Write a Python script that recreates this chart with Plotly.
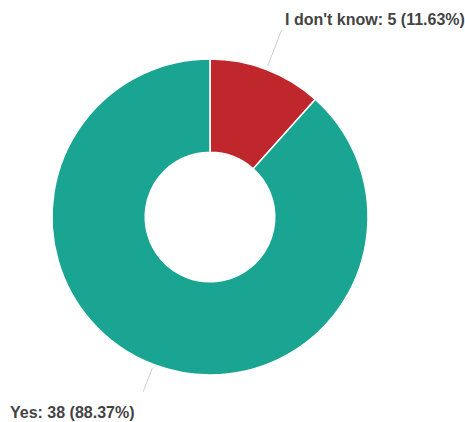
import math
import plotly.graph_objects as go

labels = ["I don't know", "Yes"]
values = [5, 38]
colors = ["#c0272d", "#1aa592"]

W, H = 465, 422
cx, cy, R = 210, 217, 158  # pixel geometry of donut

total = sum(values)
fig = go.Figure(go.Pie(
    labels=labels, values=values, sort=False, direction="clockwise", rotation=0,
    hole=0.41, marker=dict(colors=colors, line=dict(color="white", width=1.5)),
    textinfo="none", hoverinfo="label+value+percent", showlegend=False,
    domain=dict(x=[(cx - R) / W, (cx + R) / W], y=[1 - (cy + R) / H, 1 - (cy - R) / H]),
))

def px(x):
    return x / W

def py(y):
    return 1 - y / H

cum = 0
shapes, annots = [], []
outer_r = [200, 187]
font = dict(family="Liberation Sans, Arial", size=16, color="#444444")
for i, (lab, v) in enumerate(zip(labels, values)):
    mid = (cum + v / 2) / total * 2 * math.pi
    cum += v
    x0 = cx + (R + 4) * math.sin(mid)
    y0 = cy - (R + 4) * math.cos(mid)
    x1 = cx + outer_r[i] * math.sin(mid)
    y1 = cy - outer_r[i] * math.cos(mid)
    shapes.append(dict(type="line", xref="paper", yref="paper",
                       x0=px(x0), y0=py(y0), x1=px(x1), y1=py(y1),
                       line=dict(color="#cccccc", width=1)))
    pct = v / total * 100
    txt = f"<b>{lab}: {v} ({pct:.2f}%)</b>"
    if math.sin(mid) >= 0:
        annots.append(dict(x=px(x1 + 2), y=py(y1 - 11), xref="paper", yref="paper",
                           text=txt, showarrow=False, xanchor="left", yanchor="middle",
                           font=font))
    else:
        annots.append(dict(x=px(x1 - 6), y=py(y1 + 21), xref="paper", yref="paper",
                           text=txt, showarrow=False, xanchor="right", yanchor="middle",
                           font=font))

fig.update_layout(width=W, height=H, margin=dict(l=0, r=0, t=0, b=0),
                  paper_bgcolor="white", plot_bgcolor="white",
                  shapes=shapes, annotations=annots)
fig.write_html("out.html")
